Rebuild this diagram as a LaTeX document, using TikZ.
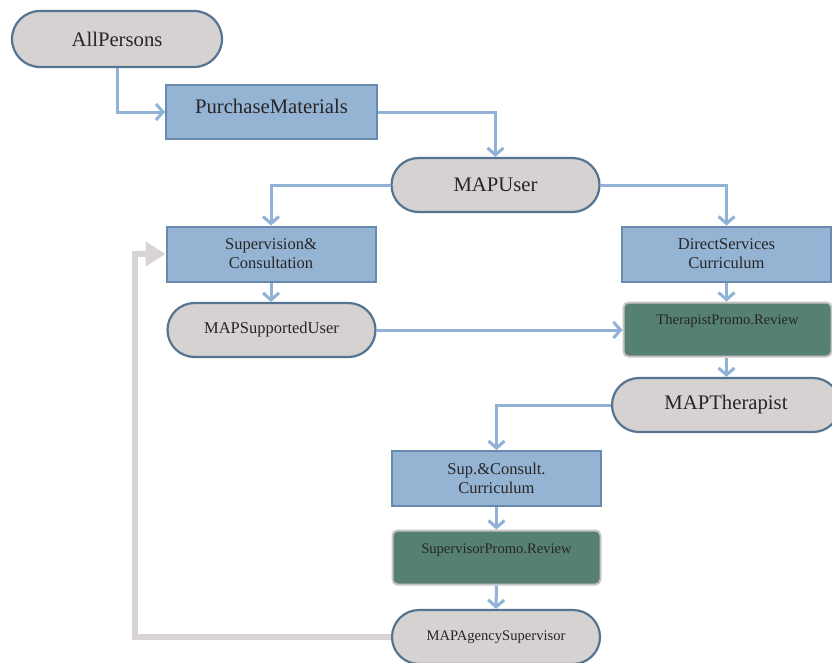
\documentclass[tikz,border=0pt]{standalone}
\usepackage{fontspec}
\setmainfont{Liberation Serif}
\usetikzlibrary{shapes.misc,arrows.meta}
\definecolor{pillfill}{RGB}{214,210,210}
\definecolor{pilldraw}{RGB}{84,116,146}
\definecolor{boxfill}{RGB}{149,180,211}
\definecolor{boxdraw}{RGB}{104,138,174}
\definecolor{greenfill}{RGB}{86,128,116}
\definecolor{greendraw}{RGB}{200,196,196}
\definecolor{linkblue}{RGB}{143,178,214}
\definecolor{linkgray}{RGB}{216,212,212}
\tikzset{
  pill/.style={rounded rectangle, fill=pillfill, draw=pilldraw, line width=2.2pt, minimum width=208pt, minimum height=54pt, inner sep=0pt, text=black!85},
  bluebox/.style={rectangle, fill=boxfill, draw=boxdraw, line width=2pt, minimum width=209pt, minimum height=55pt, inner sep=0pt, align=center, text=black!85},
  greenbox/.style={rectangle, rounded corners=5pt, fill=greenfill, draw=greendraw, line width=2pt, minimum width=208pt, minimum height=54pt, inner sep=0pt, text=black!85},
  link/.style={draw=linkblue, line width=3pt, -{Straight Barb[length=7pt,width=16pt,line width=3pt]}},
  back/.style={draw=linkgray, line width=6pt, -{Triangle[length=20pt,width=24pt]}},
  big/.style={font=\fontsize{20.7}{23}\selectfont, text=black!85},
  mid/.style={font=\fontsize{16.5}{19}\selectfont, text=black!85},
  small/.style={font=\fontsize{14.6}{17}\selectfont, text=black!85}
}
\begin{document}
\begin{tikzpicture}[x=1pt,y=-1pt]
\clip (0,0) rectangle (832,662);
\fill[white] (0,0) rectangle (832,662);
% nodes
\node[pill,big, minimum width=210pt, minimum height=56pt] (allp) at (117,39) {AllPersons};
\node[bluebox, minimum width=211pt, minimum height=54pt, label={[big,yshift=6pt]center:PurchaseMaterials}] (pm) at (271.5,112) {};
\node[pill,big] (mapuser) at (495.5,185) {MAPUser};
\node[bluebox,mid] (supcons) at (271,254) {Supervision\&\\Consultation};
\node[bluebox,mid] (dscur) at (726.5,254) {DirectServices\\Curriculum};
\node[pill,mid] (msu) at (271.5,330) {MAPSupportedUser};
\node[greenbox, label={[small,yshift=9pt]center:TherapistPromo.Review}] (tpr) at (727.5,329.5) {};
\node[pill,big, minimum width=228pt] (mapth) at (726,405) {MAPTherapist};
\node[bluebox,mid] (scc) at (496.5,478.5) {Sup.\&Consult.\\Curriculum};
\node[greenbox, label={[small,yshift=7pt]center:SupervisorPromo.Review}] (spr) at (496.5,557.5) {};
\node[pill,small] (mas) at (496,637) {MAPAgencySupervisor};
% connectors
\draw[link] (allp.south) -- (allp.south |- pm.west) -- (pm.west);
\draw[link] (pm.east) -| (mapuser.north);
\draw[link] (mapuser.west) -| (supcons.north);
\draw[link] (mapuser.east) -| (dscur.north);
\draw[link] (supcons.south) -- (msu.north -| supcons.south);
\draw[link] (dscur.south) -- (tpr.north -| dscur.south);
\draw[link] (msu.east) -- (tpr.west |- msu.east);
\draw[link] (tpr.south -| dscur.south) -- (mapth.north -| dscur.south);
\draw[link] (mapth.west) -| (scc.north);
\draw[link] (scc.south) -- (spr.north);
\draw[link] (spr.south) -- (mas.north);
\coordinate (bk) at (135,637);
\draw[back] (mas.west) -- (bk) -- (bk |- supcons.west) -- (supcons.west);
\end{tikzpicture}
\end{document}
